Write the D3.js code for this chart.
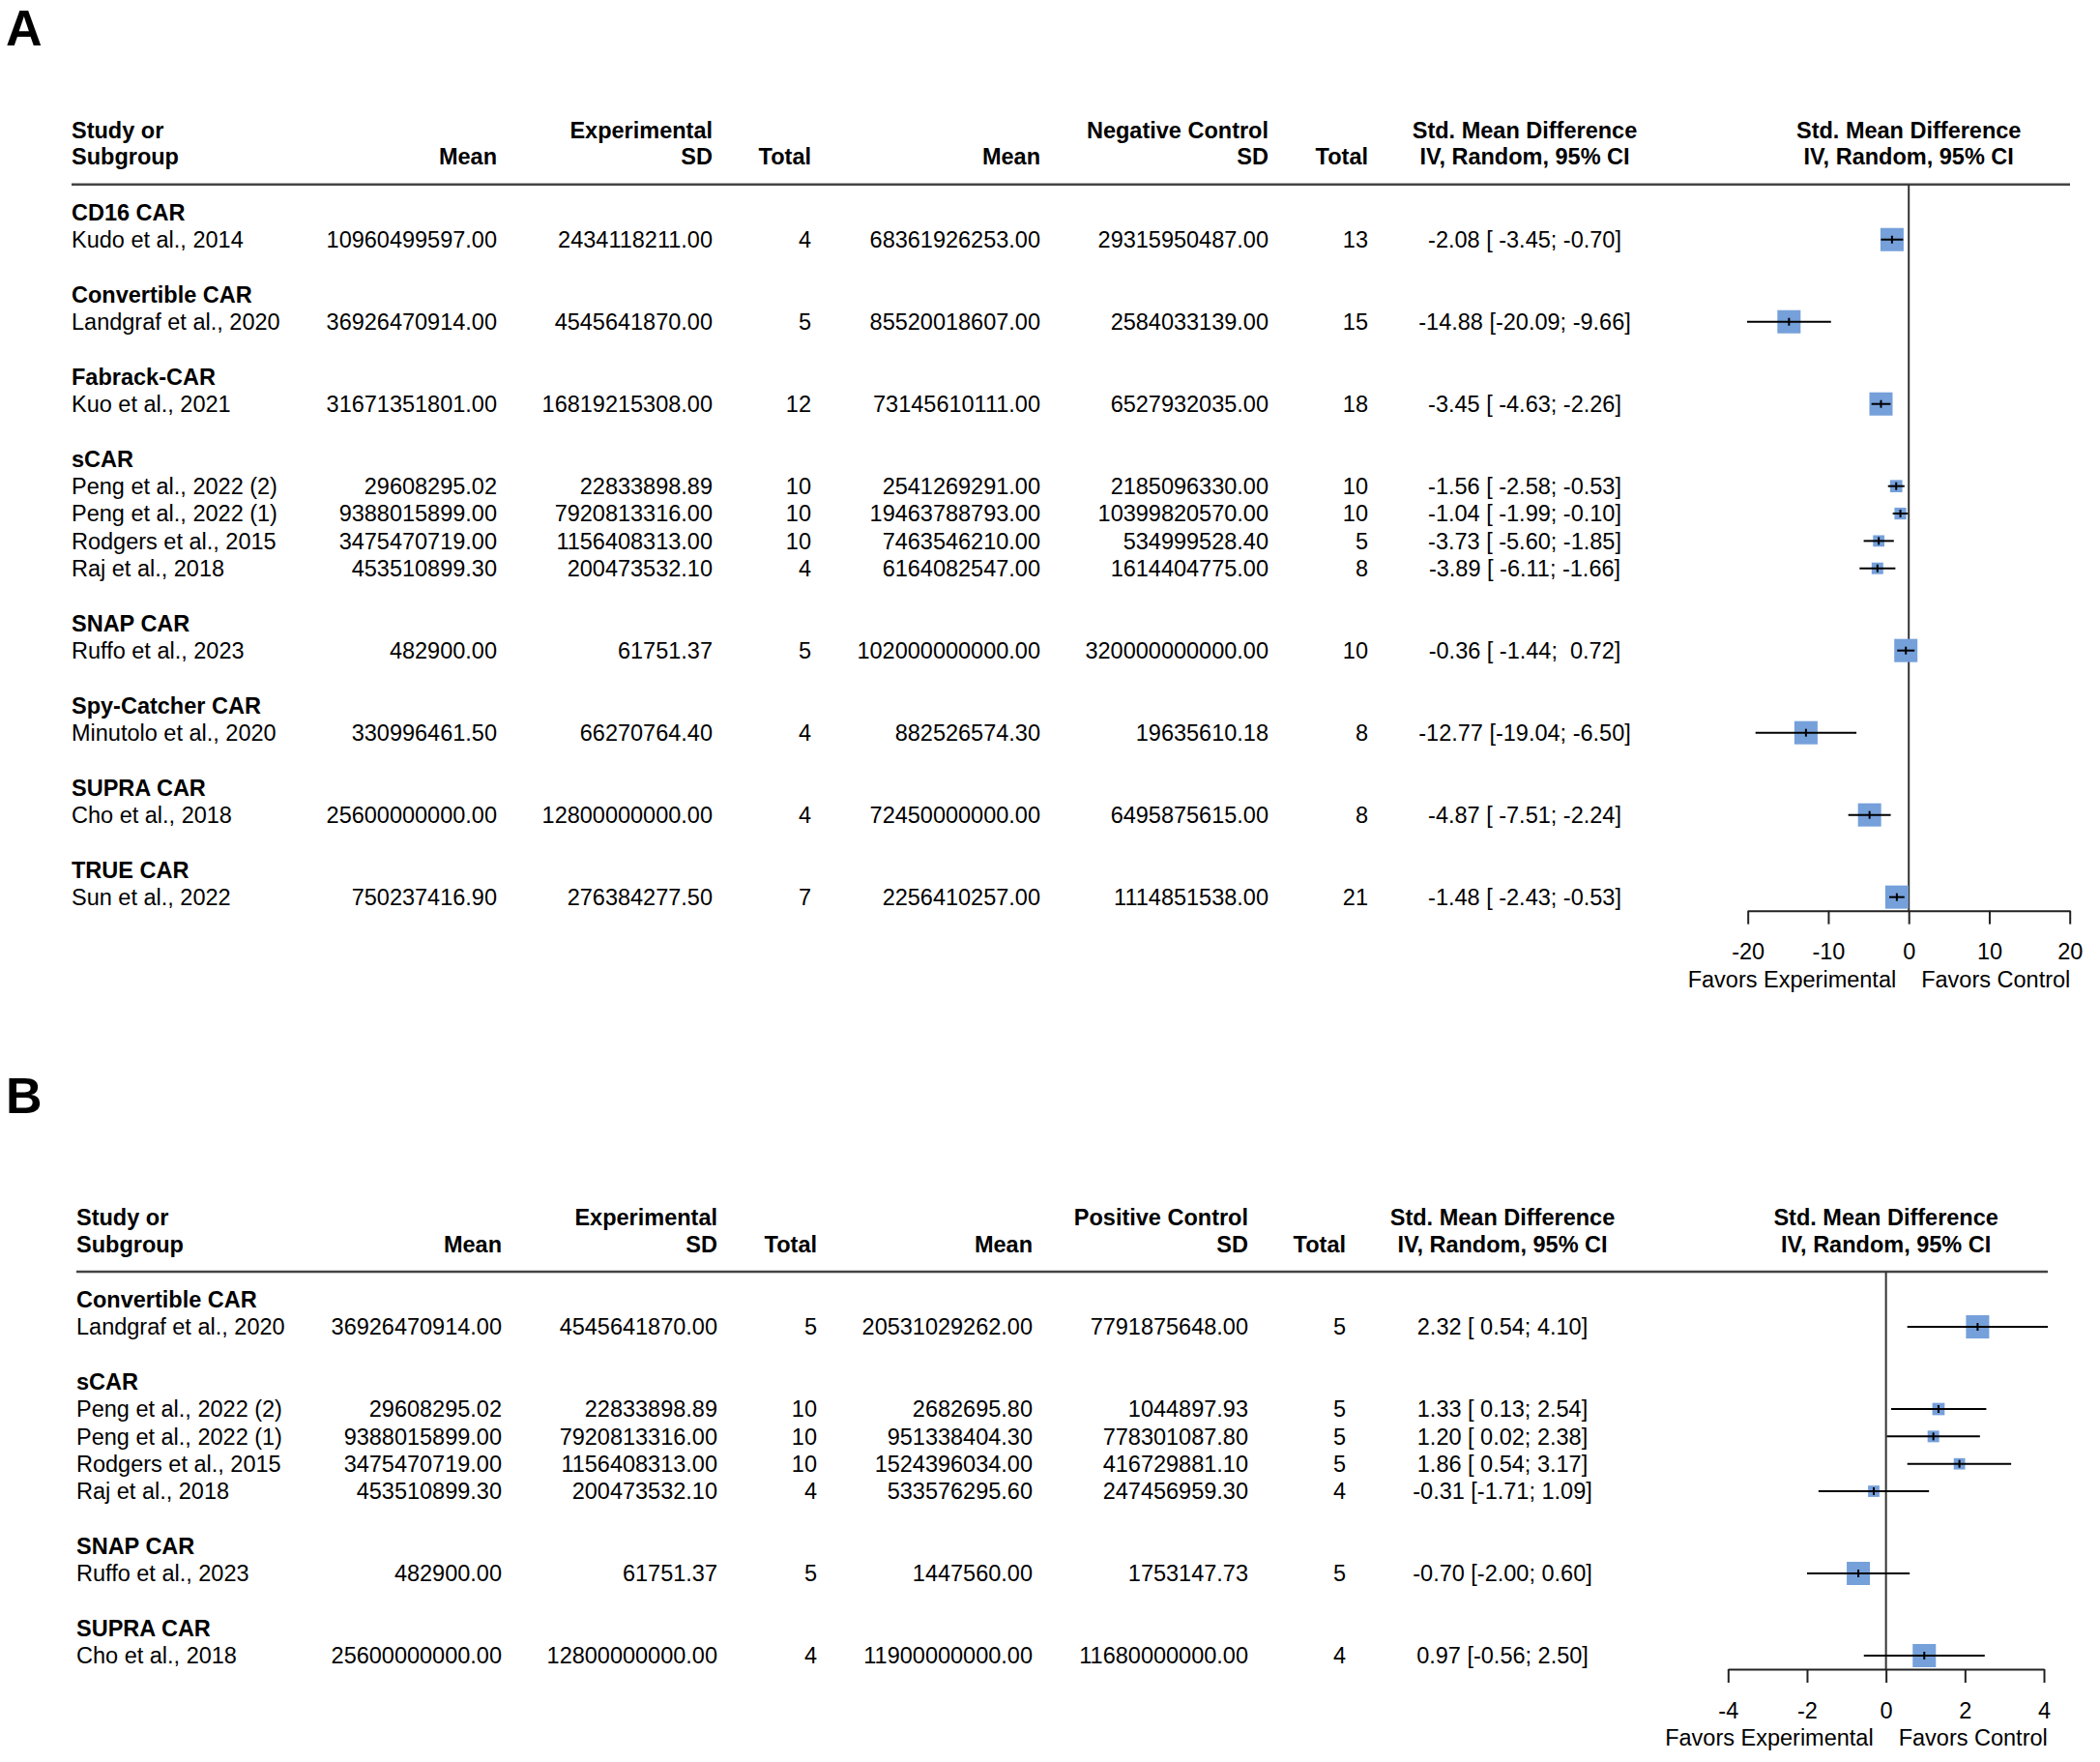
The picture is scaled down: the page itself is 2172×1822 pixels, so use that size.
<!DOCTYPE html>
<html>
<head>
<meta charset="utf-8">
<script src="https://cdn.jsdelivr.net/npm/d3@7"></script>
<style>
  html, body { margin: 0; padding: 0; background: #ffffff; }
  svg text { font-family: "Liberation Sans", Arial, sans-serif; white-space: pre; }
</style>
</head>
<body>
<svg id="chart" width="2172" height="1822"></svg>
<script>
// ---------------- DATA: panel A (Negative control) ----------------
const groupsA = ["CD16 CAR", "Convertible CAR", "Fabrack-CAR", "sCAR", "SNAP CAR", "Spy-Catcher CAR", "SUPRA CAR", "TRUE CAR"];
const studyGroupA = ["CD16 CAR", "Convertible CAR", "Fabrack-CAR", "sCAR", "sCAR", "sCAR", "sCAR", "SNAP CAR", "Spy-Catcher CAR", "SUPRA CAR", "TRUE CAR"];
const studiesA = ["Kudo et al., 2014", "Landgraf et al., 2020", "Kuo et al., 2021", "Peng et al., 2022 (2)", "Peng et al., 2022 (1)", "Rodgers et al., 2015", "Raj et al., 2018", "Ruffo et al., 2023", "Minutolo et al., 2020", "Cho et al., 2018", "Sun et al., 2022"];
const expMeanA = [10960499597.00, 36926470914.00, 31671351801.00, 29608295.02, 9388015899.00, 3475470719.00, 453510899.30, 482900.00, 330996461.50, 25600000000.00, 750237416.90];
const expSdA = [2434118211.00, 4545641870.00, 16819215308.00, 22833898.89, 7920813316.00, 1156408313.00, 200473532.10, 61751.37, 66270764.40, 12800000000.00, 276384277.50];
const expNA = [4, 5, 12, 10, 10, 10, 4, 5, 4, 4, 7];
const ctrlMeanA = [68361926253.00, 85520018607.00, 73145610111.00, 2541269291.00, 19463788793.00, 7463546210.00, 6164082547.00, 102000000000.00, 882526574.30, 72450000000.00, 2256410257.00];
const ctrlSdA = [29315950487.00, 2584033139.00, 6527932035.00, 2185096330.00, 10399820570.00, 534999528.40, 1614404775.00, 320000000000.00, 19635610.18, 6495875615.00, 1114851538.00];
const ctrlNA = [13, 15, 18, 10, 10, 5, 8, 10, 8, 8, 21];
const smdA = [-2.08, -14.88, -3.45, -1.56, -1.04, -3.73, -3.89, -0.36, -12.77, -4.87, -1.48];
const lowerA = [-3.45, -20.09, -4.63, -2.58, -1.99, -5.60, -6.11, -1.44, -19.04, -7.51, -2.43];
const upperA = [-0.70, -9.66, -2.26, -0.53, -0.10, -1.85, -1.66, 0.72, -6.50, -2.24, -0.53];
const weightA = [100, 100, 100, 28, 26, 24, 25, 100, 100, 100, 100];
const ticksA = [-20, -10, 0, 10, 20];

// ---------------- DATA: panel B (Positive control) ----------------
const groupsB = ["Convertible CAR", "sCAR", "SNAP CAR", "SUPRA CAR"];
const studyGroupB = ["Convertible CAR", "sCAR", "sCAR", "sCAR", "sCAR", "SNAP CAR", "SUPRA CAR"];
const studiesB = ["Landgraf et al., 2020", "Peng et al., 2022 (2)", "Peng et al., 2022 (1)", "Rodgers et al., 2015", "Raj et al., 2018", "Ruffo et al., 2023", "Cho et al., 2018"];
const expMeanB = [36926470914.00, 29608295.02, 9388015899.00, 3475470719.00, 453510899.30, 482900.00, 25600000000.00];
const expSdB = [4545641870.00, 22833898.89, 7920813316.00, 1156408313.00, 200473532.10, 61751.37, 12800000000.00];
const expNB = [5, 10, 10, 10, 4, 5, 4];
const ctrlMeanB = [20531029262.00, 2682695.80, 951338404.30, 1524396034.00, 533576295.60, 1447560.00, 11900000000.00];
const ctrlSdB = [7791875648.00, 1044897.93, 778301087.80, 416729881.10, 247456959.30, 1753147.73, 11680000000.00];
const ctrlNB = [5, 5, 5, 5, 4, 5, 4];
const smdB = [2.32, 1.33, 1.20, 1.86, -0.31, -0.70, 0.97];
const lowerB = [0.54, 0.13, 0.02, 0.54, -1.71, -2.00, -0.56];
const upperB = [4.10, 2.54, 2.38, 3.17, 1.09, 0.60, 2.50];
const weightB = [100, 28, 25, 24, 24, 100, 100];
const ticksB = [-4, -2, 0, 2, 4];

// ---------------- DRAWING ----------------
const FS = 23.5;           // font size
const ROW = 28.33;         // row pitch
const SQ_MAX = 24;         // square size at 100% weight
const SQ_COLOR = "#75a0da";
const svg = d3.select("#chart");
svg.append("rect").attr("width", 2172).attr("height", 1822).attr("fill", "#ffffff");

const locale = d3.formatLocale({ decimal: ".", thousands: ",", grouping: [3], currency: ["", ""], minus: "-" });
const fmt2 = locale.format(".2f");
const fmtInt = locale.format("d");

function ciLabels(smd, lo, hi) {
  const los = lo.map(fmt2), his = hi.map(fmt2);
  const wl = d3.max(los, s => s.length), wh = d3.max(his, s => s.length);
  return smd.map((m, i) => fmt2(m) + " [" + los[i].padStart(wl, " ") + "; " + his[i].padStart(wh, " ") + "]");
}

function drawPanel(p) {
  const g = svg.append("g");
  const txt = (x, y, s, anchor, bold) => g.append("text")
    .attr("x", x).attr("y", y).attr("text-anchor", anchor || "start")
    .attr("font-size", FS).attr("font-weight", bold ? "bold" : "normal")
    .attr("fill", "#000").text(s);

  // panel letter
  g.append("text").attr("x", p.letterX).attr("y", p.letterY)
    .attr("font-size", 52).attr("font-weight", "bold").attr("fill", "#000").text(p.letter);

  const c = p.cols;
  const h1 = p.ruleY - 48, h2 = p.ruleY - 20.5;
  txt(c.study, h1, "Study or", "start", true);
  txt(c.study, h2, "Subgroup", "start", true);
  txt(c.expMean, h2, "Mean", "end", true);
  txt(c.expSd, h1, "Experimental", "end", true);
  txt(c.expSd, h2, "SD", "end", true);
  txt(c.expN, h2, "Total", "end", true);
  txt(c.ctrlMean, h2, "Mean", "end", true);
  txt(c.ctrlSd, h1, p.ctrlName, "end", true);
  txt(c.ctrlSd, h2, "SD", "end", true);
  txt(c.ctrlN, h2, "Total", "end", true);
  txt(c.ci, h1, "Std. Mean Difference", "middle", true);
  txt(c.ci, h2, "IV, Random, 95% CI", "middle", true);

  const x = d3.scaleLinear().domain(d3.extent(p.ticks)).range(p.xRange);
  txt(x(0), h1, "Std. Mean Difference", "middle", true);
  txt(x(0), h2, "IV, Random, 95% CI", "middle", true);

  // header rule
  g.append("line").attr("x1", c.study).attr("x2", p.ruleEnd)
    .attr("y1", p.ruleY).attr("y2", p.ruleY)
    .attr("stroke", "#444").attr("stroke-width", 2.5);

  // build rows
  const rows = [];
  let r = 0;
  p.groups.forEach((grp, gi) => {
    rows.push({ type: "group", label: grp, r: r++ });
    p.studyGroup.forEach((sg, i) => { if (sg === grp) rows.push({ type: "study", i: i, r: r++ }); });
    if (gi < p.groups.length - 1) r++;
  });
  const yRow = k => p.ruleY + 28.7 + k * ROW;
  const lastY = yRow(r - 1);
  const axisY = lastY + 14;

  const ci = ciLabels(p.smd, p.lower, p.upper);

  rows.forEach(row => {
    const yc = yRow(row.r), yb = yc + 8.4;
    if (row.type === "group") { txt(c.study, yb, row.label, "start", true); return; }
    const i = row.i;
    txt(c.study, yb, p.studies[i]);
    txt(c.expMean, yb, fmt2(p.expMean[i]), "end");
    txt(c.expSd, yb, fmt2(p.expSd[i]), "end");
    txt(c.expN, yb, String(p.expN[i]), "end");
    txt(c.ctrlMean, yb, fmt2(p.ctrlMean[i]), "end");
    txt(c.ctrlSd, yb, fmt2(p.ctrlSd[i]), "end");
    txt(c.ctrlN, yb, String(p.ctrlN[i]), "end");
    txt(c.ci, yb, ci[i], "middle");
  });

  // zero line
  g.append("line").attr("x1", x(0)).attr("x2", x(0))
    .attr("y1", p.ruleY).attr("y2", axisY)
    .attr("stroke", "#333").attr("stroke-width", 2);

  // squares, CIs
  const studyRows = rows.filter(d => d.type === "study");
  const side = d => SQ_MAX * Math.sqrt(p.weight[d.i] / 100);
  const mk = g.append("g").selectAll("g").data(studyRows).join("g");
  mk.append("rect")
    .attr("x", d => x(p.smd[d.i]) - side(d) / 2)
    .attr("y", d => yRow(d.r) - side(d) / 2)
    .attr("width", side)
    .attr("height", side)
    .attr("fill", SQ_COLOR);
  mk.append("line")
    .attr("x1", d => x(p.lower[d.i])).attr("x2", d => x(p.upper[d.i]))
    .attr("y1", d => yRow(d.r)).attr("y2", d => yRow(d.r))
    .attr("stroke", "#000").attr("stroke-width", 2);
  mk.append("line")
    .attr("x1", d => x(p.smd[d.i])).attr("x2", d => x(p.smd[d.i]))
    .attr("y1", d => yRow(d.r) - 4).attr("y2", d => yRow(d.r) + 4)
    .attr("stroke", "#000").attr("stroke-width", 2);

  // axis
  const ax = g.append("g").attr("transform", `translate(0,${axisY})`)
    .call(d3.axisBottom(x).tickValues(p.ticks).tickSize(14).tickSizeOuter(0).tickPadding(20)
      .tickFormat(fmtInt));
  ax.attr("font-family", null).attr("font-size", null);
  ax.select(".domain").attr("stroke", "#222").attr("stroke-width", 2);
  ax.selectAll(".tick line").attr("stroke", "#222").attr("stroke-width", 2);
  ax.selectAll(".tick text").attr("font-size", FS).attr("fill", "#000")
    .attr("font-family", "Liberation Sans, Arial, sans-serif");

  txt(x(0) - 13, axisY + 79, "Favors Experimental", "end");
  txt(x(0) + 13, axisY + 79, "Favors Control", "start");
}

drawPanel({
  letter: "A", letterX: 6, letterY: 47,
  ctrlName: "Negative Control",
  ruleY: 190.7, ruleEnd: 2141,
  cols: { study: 74, expMean: 514, expSd: 737, expN: 839, ctrlMean: 1076, ctrlSd: 1312, ctrlN: 1415, ci: 1577 },
  xRange: [1807.7, 2140.7], ticks: ticksA,
  groups: groupsA, studyGroup: studyGroupA, studies: studiesA,
  expMean: expMeanA, expSd: expSdA, expN: expNA,
  ctrlMean: ctrlMeanA, ctrlSd: ctrlSdA, ctrlN: ctrlNA,
  smd: smdA, lower: lowerA, upper: upperA, weight: weightA
});

drawPanel({
  letter: "B", letterX: 6, letterY: 1151,
  ctrlName: "Positive Control",
  ruleY: 1315, ruleEnd: 2118,
  cols: { study: 79, expMean: 519, expSd: 742, expN: 845, ctrlMean: 1068, ctrlSd: 1291, ctrlN: 1392, ci: 1554 },
  xRange: [1787.3, 2114], ticks: ticksB,
  groups: groupsB, studyGroup: studyGroupB, studies: studiesB,
  expMean: expMeanB, expSd: expSdB, expN: expNB,
  ctrlMean: ctrlMeanB, ctrlSd: ctrlSdB, ctrlN: ctrlNB,
  smd: smdB, lower: lowerB, upper: upperB, weight: weightB
});
</script>
</body>
</html>
